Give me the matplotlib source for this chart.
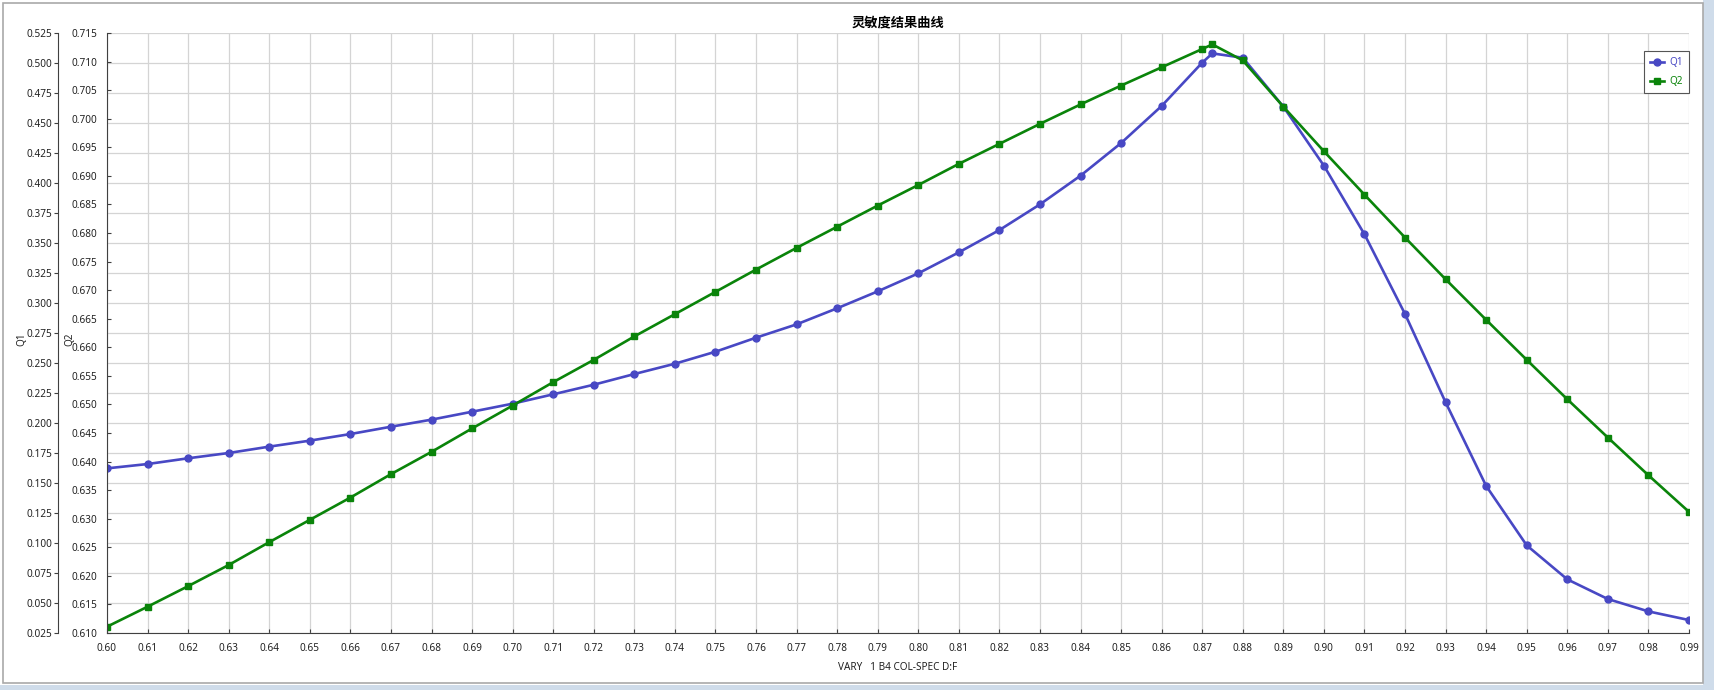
import matplotlib
matplotlib.use('Agg')
import matplotlib.pyplot as plt
from matplotlib.patches import Rectangle

plt.rcParams['font.family'] = ['Noto Sans', 'Noto Sans CJK SC', 'DejaVu Sans']

# data
vary = [0.60, 0.61, 0.62, 0.63, 0.64, 0.65, 0.66, 0.67, 0.68, 0.69,
        0.70, 0.71, 0.72, 0.73, 0.74, 0.75, 0.76, 0.77, 0.78, 0.79,
        0.80, 0.81, 0.82, 0.83, 0.84, 0.85, 0.86, 0.87, 0.8725, 0.88,
        0.89, 0.90, 0.91, 0.92, 0.93, 0.94, 0.95, 0.96, 0.97, 0.98, 0.99]
q1 = [0.1622, 0.1658, 0.1706, 0.1750, 0.1803, 0.1853, 0.1908, 0.1969, 0.2028, 0.2094,
      0.2161, 0.2239, 0.2319, 0.2408, 0.2494, 0.2594, 0.2711, 0.2822, 0.2956, 0.3097,
      0.3247, 0.3422, 0.3608, 0.3822, 0.4061, 0.4333, 0.4642, 0.5003, 0.5080, 0.5044,
      0.4636, 0.4144, 0.3572, 0.2908, 0.2172, 0.1475, 0.0980, 0.0697, 0.0533, 0.0430, 0.0358]
q2 = [0.6111, 0.6146, 0.6182, 0.6219, 0.6259, 0.6298, 0.6337, 0.6378, 0.6417, 0.6458,
      0.6498, 0.6539, 0.6578, 0.6619, 0.6658, 0.6697, 0.6736, 0.6774, 0.6811, 0.6848,
      0.6884, 0.6921, 0.6956, 0.6991, 0.7025, 0.7058, 0.7090, 0.7122, 0.7130, 0.7102,
      0.7021, 0.6943, 0.6867, 0.6792, 0.6719, 0.6648, 0.6578, 0.6509, 0.6442, 0.6376, 0.6312]

xticks = [round(0.60 + 0.01 * i, 2) for i in range(40)]
q1_ticks = [round(0.025 + 0.025 * i, 3) for i in range(21)]
q2_ticks = [round(0.610 + 0.005 * i, 3) for i in range(22)]

W, H = 1714, 690
fig = plt.figure(figsize=(W / 100, H / 100), dpi=100)
fig.patch.set_facecolor('white')

# window frame
fig.add_artist(Rectangle((0, 0), 1, 5 / H, transform=fig.transFigure,
                         facecolor='#cfdcea', edgecolor='none', zorder=0))
fig.add_artist(Rectangle((1703 / W, 0), 11 / W, 1, transform=fig.transFigure,
                         facecolor='#cfdcea', edgecolor='none', zorder=0))
fig.add_artist(Rectangle((3 / W, 7 / H), 1700 / W, 680 / H, transform=fig.transFigure,
                         facecolor='white', edgecolor='#a9a9a9', linewidth=1.2, zorder=0))

blue = '#4848c4'
green = '#0a840a'
spine_c = '#404040'
text_c = '#222222'

ax1 = fig.add_axes([107 / W, 57 / H, 1582 / W, 600 / H])
ax1.set_facecolor('none')
ax2 = ax1.twinx()

l1, = ax1.plot(vary, q1, color=blue, linewidth=1.9, marker='o', markersize=5, label='Q1')
l2, = ax2.plot(vary, q2, color=green, linewidth=1.9, marker='s', markersize=5, label='Q2')

ax1.set_xlim(0.60, 0.99)
ax1.set_ylim(0.025, 0.525)
ax2.set_ylim(0.610, 0.715)
ax1.set_xticks(xticks)
ax1.set_xticklabels(['%.2f' % v for v in xticks])
ax1.set_yticks(q1_ticks)
ax1.set_yticklabels(['%.3f' % v for v in q1_ticks])
ax2.set_yticks(q2_ticks)
ax2.set_yticklabels(['%.3f' % v for v in q2_ticks])

ax1.grid(True, color='#d4d4d4', linewidth=0.9)
ax1.set_axisbelow(True)

for s in ['top', 'right']:
    ax1.spines[s].set_visible(False)
for s in ['top', 'right', 'bottom']:
    ax2.spines[s].set_visible(False)
ax1.spines['left'].set_position(('axes', -49 / 1582))
ax1.spines['left'].set_color(spine_c)
ax1.spines['bottom'].set_color(spine_c)
ax2.spines['left'].set_visible(True)
ax2.spines['left'].set_color(spine_c)
ax2.yaxis.tick_left()
ax2.yaxis.set_label_position('left')

ax1.tick_params(axis='x', direction='in', length=3, pad=7, labelsize=7.2, colors=spine_c, labelcolor=text_c)
ax1.tick_params(axis='y', direction='out', length=3, pad=1, labelsize=7.2, colors=spine_c, labelcolor=text_c)
ax2.tick_params(axis='y', direction='in', length=3, pad=7, labelsize=7.2, colors=spine_c, labelcolor=text_c)

ax1.set_ylabel('Q1', fontsize=7.2, color=text_c)
ax1.yaxis.set_label_coords(-80 / 1582, 0.49)
ax2.set_ylabel('Q2', fontsize=7.2, color=text_c)
ax2.yaxis.set_label_coords(-32 / 1582, 0.49)
ax1.set_xlabel('VARY   1 B4 COL-SPEC D:F', fontsize=7.2, color=text_c, labelpad=6)

ax1.set_title('灵敏度结果曲线', fontsize=9.5, fontweight='bold', pad=5)

leg = ax2.legend([l1, l2], ['Q1', 'Q2'], loc='upper right', bbox_to_anchor=(1.0, 0.97),
                 fontsize=7.2, handlelength=1.4, handletextpad=0.5, borderpad=0.6,
                 labelspacing=0.8, fancybox=False, framealpha=1, borderaxespad=0)
leg.get_frame().set_edgecolor('#555555')
leg.get_frame().set_linewidth(0.8)
for t, c in zip(leg.get_texts(), [blue, green]):
    t.set_color(c)

fig.savefig('out.png', dpi=100)
